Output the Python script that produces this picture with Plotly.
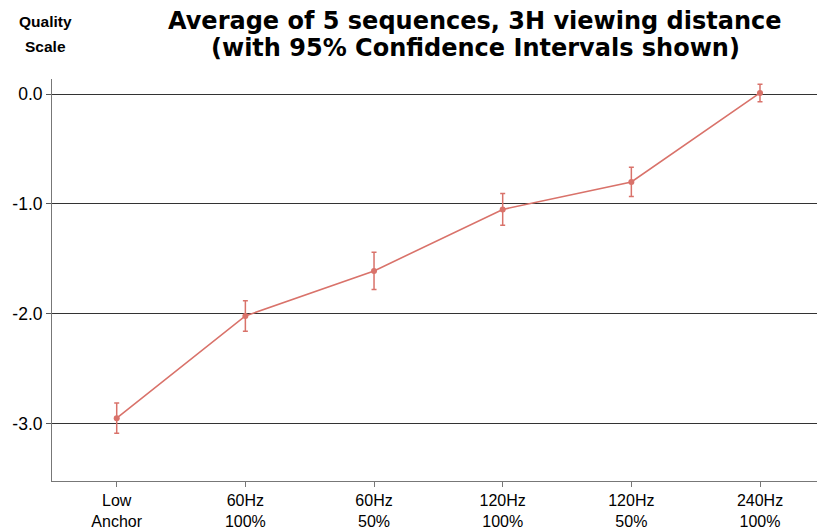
import plotly.graph_objects as go

categories = ["Low<br>Anchor", "60Hz<br>100%", "60Hz<br>50%", "120Hz<br>100%", "120Hz<br>50%", "240Hz<br>100%"]
scores = [-2.95, -2.02, -1.61, -1.05, -0.80, 0.01]
ci95 = [0.137, 0.139, 0.17, 0.145, 0.133, 0.08]
y_ticks = [0.0, -1.0, -2.0, -3.0]

color = "#D9726A"
xpos = list(range(len(categories)))

fig = go.Figure()
fig.add_trace(go.Scatter(
    x=xpos, y=scores,
    mode="lines+markers",
    line=dict(color=color, width=1.6),
    marker=dict(color=color, size=6),
    error_y=dict(type="data", array=ci95, color=color, thickness=1.5, width=2.5),
    showlegend=False,
))

fig.update_layout(
    width=817, height=530,
    margin=dict(l=52, r=0, t=79, b=43),
    plot_bgcolor="white", paper_bgcolor="white",
    font=dict(family="Liberation Sans, Arial, sans-serif", color="black"),
)
fig.update_xaxes(
    range=[-0.503, 5.443],
    tickvals=xpos, ticktext=categories,
    tickfont=dict(size=16),
    showgrid=False, zeroline=False,
    showline=True, linecolor="#777", linewidth=1,
    ticks="outside", ticklen=5, tickcolor="#777",
)
fig.update_yaxes(
    range=[-3.522, 0.137],
    tickvals=y_ticks, ticktext=["%.1f" % v for v in y_ticks],
    tickfont=dict(size=17.5),
    showgrid=True, gridcolor="#333", gridwidth=1,
    zeroline=False,
    showline=True, linecolor="#777", linewidth=1,
    ticks="outside", ticklen=5, tickcolor="#555",
)

title_font = dict(family="DejaVu Sans, Verdana, sans-serif", size=24, color="black")
for txt, shift in [("Average of 5 sequences, 3H viewing distance", 58),
                   ("(with 95% Confidence Intervals shown)", 31)]:
    fig.add_annotation(
        text="<b>%s</b>" % txt, xref="paper", yref="paper", x=0.553, y=1.0,
        xanchor="center", yanchor="middle", yshift=shift, showarrow=False,
        font=title_font,
    )

label_font = dict(family="Liberation Sans, Arial, sans-serif", size=15.5, color="black")
for txt, shift in [("Quality", 58), ("Scale", 33)]:
    fig.add_annotation(
        text="<b>%s</b>" % txt, xref="paper", yref="paper", x=-0.009, y=1.0,
        xanchor="center", yanchor="middle", yshift=shift, showarrow=False,
        font=label_font,
    )

# drop the default 8px body margin so the figure fills the window exactly
fig.write_html("out.html", config={"displayModeBar": False},
               post_script="document.body.style.margin='0';")
